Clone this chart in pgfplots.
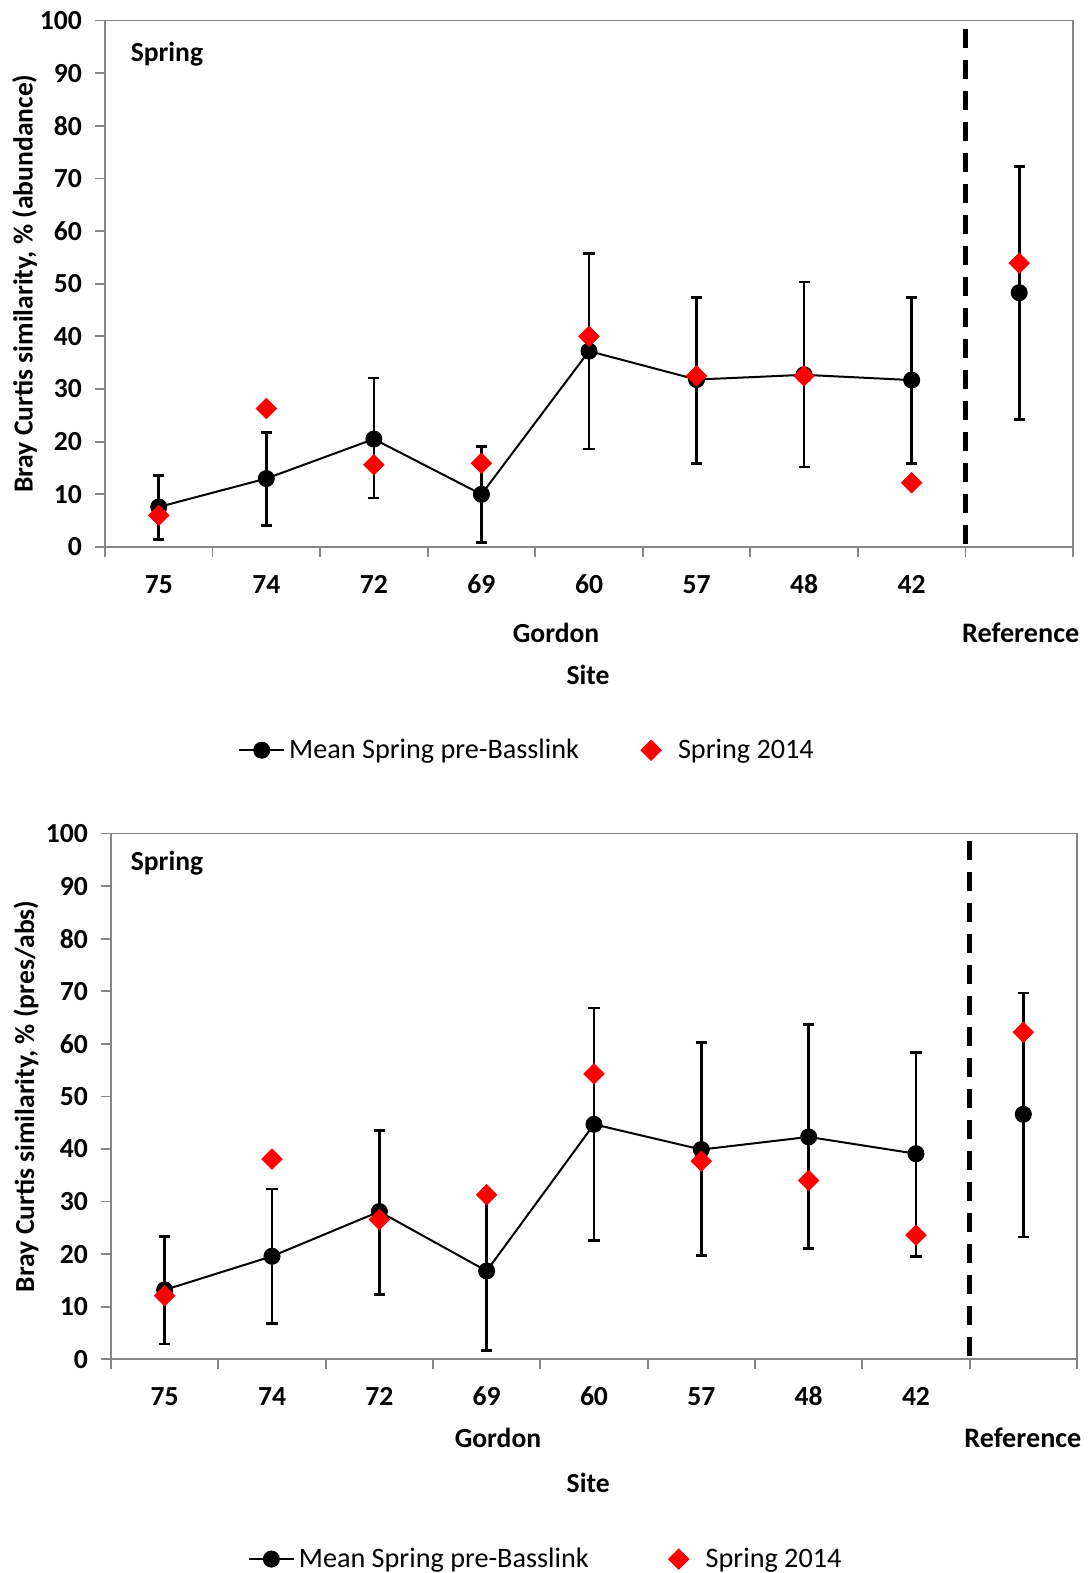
\documentclass[border=0pt]{standalone}
\usepackage{fontspec}
\setmainfont{Carlito}
\usepackage{pgfplots}
\pgfplotsset{compat=1.18}
\usepackage{pgfplotstable}

\definecolor{axgray}{RGB}{134,134,134}
\definecolor{myred}{RGB}{255,0,0}

% Top panel: abundance
\pgfplotstableread{
x y ep em
0 7.6 6.0 6.2
1 13.0 8.8 8.9
2 20.5 11.6 11.2
3 10.0 9.1 9.1
4 37.2 18.5 18.6
5 31.8 15.6 16.0
6 32.7 17.6 17.5
7 31.7 15.7 15.9
}\topmean
\pgfplotstableread{
x y ep em
8 48.3 24.0 24.1
}\topref
\pgfplotstableread{
x y
0 6.0
1 26.3
2 15.6
3 15.9
4 40.0
5 32.5
6 32.5
7 12.2
8 53.9
}\topnew

% Bottom panel: pres/abs
\pgfplotstableread{
x y ep em
0 13.2 10.2 10.3
1 19.6 12.8 12.8
2 28.1 15.4 15.8
3 16.8 15.0 15.1
4 44.7 22.1 22.1
5 39.9 20.4 20.1
6 42.3 21.4 21.2
7 39.1 19.3 19.5
}\botmean
\pgfplotstableread{
x y ep em
8 46.6 23.1 23.3
}\botref
\pgfplotstableread{
x y
0 12.1
1 38.1
2 26.6
3 31.3
4 54.3
5 37.7
6 34.0
7 23.6
8 62.2
}\botnew

\newcommand{\fs}{\fontsize{13.8}{16}\selectfont}
\newcommand{\fsl}{\fontsize{14.1}{16}\selectfont}

\pgfplotsset{
  mystyle/.style={
    scale only axis,
    xmin=-0.5, xmax=8.5, ymin=0, ymax=100,
    ytick={0,10,...,100},
    xtick={-0.5,0.5,...,8.5},
    xticklabels={},
    extra x ticks={0,1,...,7},
    extra x tick labels={75,74,72,69,60,57,48,42},
    extra x tick style={major tick length=0pt},
    tick align=outside,
    tick pos=left,
    major tick length=5pt,
    axis line style={draw=axgray, line width=0.9pt},
    every tick/.style={draw=axgray, line width=0.9pt},
    tick label style={font=\fs\bfseries},
    xticklabel style={yshift=-10.5pt, text height=9pt, text depth=0pt},
    yticklabel style={xshift=-3pt},
    /pgf/number format/assume math mode=true,
    label style={font=\fs\bfseries},
    clip=false,
    legend columns=2,
    legend cell align=left,
    legend style={draw=none, fill=none, font=\fsl, anchor=center},
  },
  meanstyle/.style={
    black, line width=1pt, mark=*, mark size=4pt,
    mark options={solid, fill=black, draw=black, line width=0.5pt},
    error bars/y dir=both,
    error bars/y explicit,
    error bars/error bar style={line width=1.3pt, black},
    error bars/error mark options={rotate=90, mark size=2.8pt, line width=1.3pt, black},
  },
  newstyle/.style={
    only marks, mark=square*, mark size=3.6pt,
    mark options={rotate=45, fill=myred, draw=myred},
    legend image code/.code={\path[draw=none,fill=none] (0pt,0pt) -- (21.5pt,0pt); \draw[##1] plot coordinates {(10pt,0pt)};},
  },
  lineleg/.style={
    legend image code/.code={\draw[mark repeat=2,mark phase=2,##1] plot coordinates {(0pt,0pt) (11.25pt,0pt) (22.5pt,0pt)};}
  },
}

\begin{document}
\begin{tikzpicture}
\path[use as bounding box] (0,0) rectangle (544pt,786.5pt);

% ---------- Top panel ----------
\begin{axis}[mystyle,
  at={(52.5pt,513pt)}, anchor=south west,
  width=484pt, height=263.25pt,
  ylabel={Bray Curtis similarity, \% (abundance)},
  ylabel style={at={(axis description cs:-0.083,0.5)}, anchor=center},
  legend style={at={(axis description cs:0.437,-0.386)},
    /tikz/every even column/.append style={column sep=24pt}},
]
\addplot[lineleg, meanstyle] table[x=x, y=y, y error plus=ep, y error minus=em] {\topmean};
\addlegendentry{Mean Spring pre-Basslink}
\addplot[forget plot, meanstyle] table[x=x, y=y, y error plus=ep, y error minus=em] {\topref};
\addplot[black, line width=2.6pt, dash pattern=on 9.5pt off 6pt, forget plot] coordinates {(7.5,0.6) (7.5,99.4)};
\addplot[newstyle] table[x=x, y=y] {\topnew};
\addlegendentry{Spring 2014}
\node[font=\fs\bfseries] at (axis description cs:0.064,0.936) {Spring};
\node[font=\fs\bfseries] at (axis description cs:0.466,-0.163) {Gordon};
\node[font=\fsl\bfseries] at (axis description cs:0.946,-0.163) {Reference};
\node[font=\fs\bfseries] at (axis description cs:0.499,-0.243) {Site};
\end{axis}

% ---------- Bottom panel ----------
\begin{axis}[mystyle,
  at={(55.5pt,106.85pt)}, anchor=south west,
  width=483pt, height=262.85pt,
  ylabel={Bray Curtis similarity, \% (pres/abs)},
  ylabel style={at={(axis description cs:-0.088,0.5)}, anchor=center},
  legend style={at={(axis description cs:0.451,-0.38)},
    /tikz/every even column/.append style={column sep=33pt}},
]
\addplot[lineleg, meanstyle] table[x=x, y=y, y error plus=ep, y error minus=em] {\botmean};
\addlegendentry{Mean Spring pre-Basslink}
\addplot[forget plot, meanstyle] table[x=x, y=y, y error plus=ep, y error minus=em] {\botref};
\addplot[black, line width=2.6pt, dash pattern=on 9.5pt off 6pt, forget plot] coordinates {(7.5,0.6) (7.5,99.4)};
\addplot[newstyle] table[x=x, y=y] {\botnew};
\addlegendentry{Spring 2014}
\node[font=\fs\bfseries] at (axis description cs:0.058,0.944) {Spring};
\node[font=\fs\bfseries] at (axis description cs:0.4006,-0.150) {Gordon};
\node[font=\fsl\bfseries] at (axis description cs:0.944,-0.150) {Reference};
\node[font=\fs\bfseries] at (axis description cs:0.494,-0.235) {Site};
\end{axis}
\end{tikzpicture}
\end{document}
